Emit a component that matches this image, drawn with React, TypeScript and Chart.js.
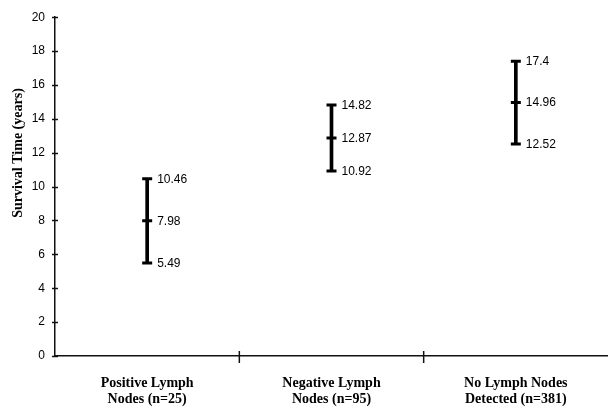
import React, { useEffect, useRef } from "react";
import { Chart, registerables } from "chart.js";

Chart.register(...registerables);

const categories: string[][] = [
  ["Positive Lymph", "Nodes (n=25)"],
  ["Negative Lymph", "Nodes (n=95)"],
  ["No Lymph Nodes", "Detected (n=381)"],
];
const lowerValues = [5.49, 10.92, 12.52];
const meanValues = [7.98, 12.87, 14.96];
const upperValues = [10.46, 14.82, 17.4];
const lowerLabels = ["5.49", "10.92", "12.52"];
const meanLabels = ["7.98", "12.87", "14.96"];
const upperLabels = ["10.46", "14.82", "17.4"];
const yMin = 0;
const yMax = 20;
const yStep = 2;
const yTitle = "Survival Time (years)";

const labelPlugin = {
  id: "valueLabels",
  afterDatasetsDraw(chart: any) {
    const ctx = chart.ctx;
    const sets = [
      { idx: 1, labels: upperLabels },
      { idx: 2, labels: meanLabels },
      { idx: 3, labels: lowerLabels },
    ];
    ctx.save();
    ctx.fillStyle = "#000";
    ctx.font = '12px "Liberation Sans", Arial, sans-serif';
    ctx.textAlign = "left";
    ctx.textBaseline = "middle";
    sets.forEach((s) => {
      const meta = chart.getDatasetMeta(s.idx);
      meta.data.forEach((pt: any, i: number) => {
        ctx.fillText(s.labels[i], pt.x + 10, pt.y + 0.5);
      });
    });
    ctx.restore();
  },
};

const axisDecorPlugin = {
  id: "axisDecor",
  afterDraw(chart: any) {
    const ctx = chart.ctx;
    const x = chart.scales.x;
    const y = chart.scales.y;
    const area = chart.chartArea;
    ctx.save();
    ctx.strokeStyle = "#111";
    ctx.lineWidth = 1.5;
    y.ticks.forEach((t: any) => {
      const py = Math.round(y.getPixelForValue(t.value)) + 0.5;
      ctx.beginPath();
      ctx.moveTo(area.left - 3, py);
      ctx.lineTo(area.left + 3, py);
      ctx.stroke();
    });
    for (let i = 0; i < categories.length - 1; i++) {
      const px = (x.getPixelForValue(i) + x.getPixelForValue(i + 1)) / 2;
      ctx.beginPath();
      ctx.moveTo(px, area.bottom - 5);
      ctx.lineTo(px, area.bottom + 7);
      ctx.stroke();
    }
    ctx.fillStyle = "#000";
    ctx.font = 'bold 14px "Liberation Serif", "Times New Roman", serif';
    ctx.textAlign = "center";
    ctx.textBaseline = "middle";
    ctx.translate(18.5, 153);
    ctx.rotate(-Math.PI / 2);
    ctx.fillText(yTitle, 0, 0);
    ctx.restore();
  },
};

export default function App() {
  const ref = useRef<HTMLCanvasElement | null>(null);
  useEffect(() => {
    document.body.style.margin = "0";
    const canvas = ref.current;
    if (!canvas) return;
    const capPoint = {
      type: "line" as const,
      showLine: false,
      pointStyle: "line" as const,
      pointRadius: 5,
      pointHoverRadius: 5,
      pointBorderWidth: 3,
      borderColor: "#000",
      backgroundColor: "#000",
    };
    const chart = new Chart(canvas, {
      type: "bar",
      data: {
        labels: categories,
        datasets: [
          {
            type: "bar",
            data: lowerValues.map((l, i) => [l, upperValues[i]]) as any,
            backgroundColor: "#000",
            borderWidth: 0,
            barThickness: 3,
            grouped: false,
          } as any,
          { ...capPoint, data: upperValues },
          { ...capPoint, data: meanValues },
          { ...capPoint, data: lowerValues },
        ],
      },
      options: {
        animation: false,
        responsive: false,
        events: [],
        layout: { autoPadding: false, padding: { top: 14, right: 0, left: 0, bottom: 0 } },
        plugins: {
          legend: { display: false },
          tooltip: { enabled: false },
          title: { display: false },
        },
        scales: {
          x: {
            type: "category",
            offset: true,
            grid: { display: false, offset: true, drawTicks: false, tickLength: 0 },
            border: { display: true, color: "#111", width: 1.5 },
            ticks: {
              color: "#000",
              padding: 20,
              maxRotation: 0,
              autoSkip: false,
              font: {
                family: '"Liberation Serif", "Times New Roman", serif',
                size: 14,
                weight: "bold",
                lineHeight: 1.1,
              },
            },
            afterFit(scale: any) {
              scale.height = 54;
              scale.paddingLeft = 0;
              scale.paddingRight = 0;
            },
          },
          y: {
            type: "linear",
            min: yMin,
            max: yMax,
            grid: { display: false, drawTicks: false, tickLength: 0 },
            border: { display: true, color: "#111", width: 1.5 },
            ticks: {
              stepSize: yStep,
              color: "#000",
              padding: 10,
              font: { family: '"Liberation Sans", Arial, sans-serif', size: 12 },
            },
            afterFit(scale: any) {
              scale.width = 55;
            },
          },
        },
      },
      plugins: [labelPlugin, axisDecorPlugin],
    });
    return () => chart.destroy();
  }, []);
  return (
    <div style={{ width: 608, height: 410 }}>
      <canvas ref={ref} width={608} height={410} />
    </div>
  );
}
